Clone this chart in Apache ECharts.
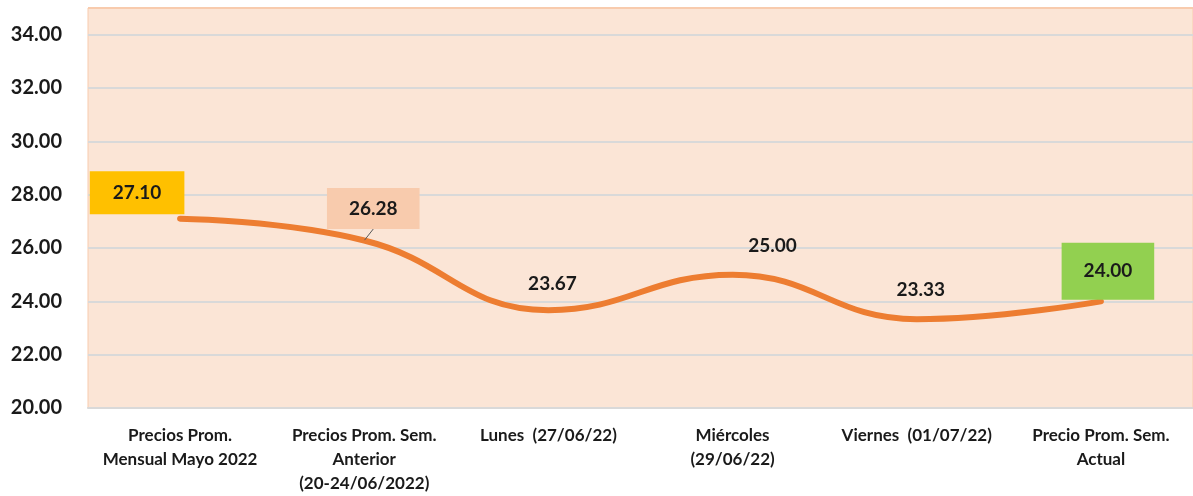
<!DOCTYPE html>
<html>
<head>
<meta charset="utf-8">
<script src="https://cdn.jsdelivr.net/npm/echarts@6/dist/echarts.min.js"></script>
<style>
    html, body { margin: 0; padding: 0; background: #fff; }
    #chart { width: 1193px; height: 496px; }
</style>
</head>
<body>
<div id="chart"></div>
<script>
var categories = [
    'Precios Prom.\nMensual Mayo 2022',
    'Precios Prom. Sem.\nAnterior\n(20-24/06/2022)',
    'Lunes  (27/06/22)',
    'Miércoles\n(29/06/22)',
    'Viernes  (01/07/22)',
    'Precio Prom. Sem.\nActual'
]
var precios = [27.10, 26.28, 23.67, 25.00, 23.33, 24.00]
var yTicks = [20, 22, 24, 26, 28, 30, 32, 34]

var myChart = echarts.init(document.getElementById('chart'))
var font = 'Lato, "Open Sans", sans-serif'
var textColor = '#1a1a1a'

// estilos de etiqueta por punto (cajas de color como en el original)
var labelStyles = [
    { position: 'inside', offset: [-43, -26], backgroundColor: '#FFC000', padding: [12, 23, 12, 23] },
    { position: 'inside', offset: [9, -32], backgroundColor: '#F8CBAD', padding: [11, 22, 11, 22] },
    { position: 'inside', offset: [4, -26] },
    { position: 'inside', offset: [40, -29] },
    { position: 'inside', offset: [4, -29] },
    { position: 'inside', offset: [7, -30], backgroundColor: '#92D050', padding: [19, 22, 19, 22] }
]

var option = {
    animation: false,
    grid: {
        left: 88,
        right: 0,
        top: 8,
        bottom: 88,
        show: true,
        backgroundColor: '#FBE5D6',
        borderColor: '#F8CBAD',
        borderWidth: 1
    },
    xAxis: {
        type: 'category',
        data: categories,
        boundaryGap: true,
        axisLine: { show: true, lineStyle: { color: '#D9D9D9', width: 2 } },
        axisTick: { show: false },
        axisLabel: {
            interval: 0,
            margin: 16,
            fontFamily: font,
            fontWeight: 'bold',
            fontSize: 17,
            lineHeight: 24,
            color: textColor
        }
    },
    yAxis: {
        type: 'value',
        min: 20,
        max: 35,
        interval: 2,
        axisLine: { show: false },
        axisTick: { show: false },
        axisLabel: {
            margin: 26,
            fontFamily: font,
            fontWeight: 'bold',
            fontSize: 20,
            color: textColor,
            showMaxLabel: false,
            formatter: function (v) {
                return yTicks.indexOf(v) > -1 ? v.toFixed(2) : ''
            }
        },
        splitLine: {
            lineStyle: {
                color: ['#D9D9D9', '#D9D9D9', '#D9D9D9', '#D9D9D9', '#D9D9D9', '#D9D9D9', '#D9D9D9', '#D9D9D9', '#F8CBAD'],
                width: 2
            }
        }
    },
    series: [{
        type: 'line',
        smooth: 0.45,
        symbol: 'circle',
        symbolSize: 1,
        showSymbol: true,
        itemStyle: { color: 'rgba(0,0,0,0)' },
        lineStyle: { color: '#ED7D31', width: 6, cap: 'round' },
        data: precios.map(function (v, i) {
            var item = { value: v, label: labelStyles[i] }
            if (i === 1) {
                // linea guia hacia la etiqueta
                item.labelLine = { show: true, lineStyle: { color: '#595959', width: 1 } }
            }
            return item
        }),
        label: {
            show: true,
            fontFamily: font,
            fontWeight: 'bold',
            fontSize: 19,
            color: textColor,
            formatter: function (p) {
                return p.value.toFixed(2)
            }
        }
    }]
}
option && myChart.setOption(option)
</script>
</body>
</html>
